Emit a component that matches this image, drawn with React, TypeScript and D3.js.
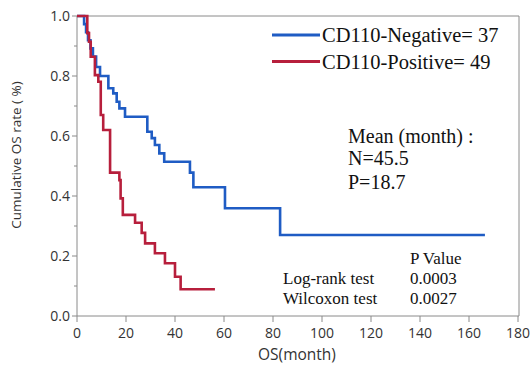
import React from "react";
import * as d3 from "d3";

const negTimes = [0, 2.9, 3.7, 4.5, 5.5, 6.5, 7.8, 9.4, 12.8, 14.8, 16.2, 17.3, 19.6, 28.7, 30.5, 31.8, 33.6, 35.6, 46.1, 47.5, 60.4, 82.9, 166.5];
const negSurv = [1, 0.973, 0.946, 0.919, 0.892, 0.865, 0.83, 0.8, 0.759, 0.742, 0.714, 0.692, 0.664, 0.614, 0.593, 0.57, 0.542, 0.514, 0.478, 0.429, 0.359, 0.27, 0.27];
const posTimes = [0, 4.2, 4.9, 5.6, 7.3, 8.7, 9.7, 10.7, 13.5, 17.3, 17.8, 18.7, 23.7, 26.4, 27.8, 31.8, 35.9, 40, 42.3, 56.3];
const posSurv = [1, 0.943, 0.914, 0.864, 0.803, 0.781, 0.67, 0.62, 0.478, 0.453, 0.392, 0.337, 0.311, 0.277, 0.242, 0.209, 0.176, 0.131, 0.089, 0.089];

const xTicks = [0, 20, 40, 60, 80, 100, 120, 140, 160, 180];
const yTicks = [0, 0.2, 0.4, 0.6, 0.8, 1.0];
const yMinor = [0.1, 0.3, 0.5, 0.7, 0.9];

const legendLabels = ["CD110-Negative= 37", "CD110-Positive= 49"];
const meanLines = ["Mean (month) :", "N=45.5", "P=18.7"];
const testNames = ["Log-rank test", "Wilcoxon test"];
const testP = ["0.0003", "0.0027"];

const BLUE = "#1f5cc4";
const RED = "#b71f3c";
const AXIS = "#8a8a8a";

export default function App() {
  const x = d3.scaleLinear().domain([0, 180]).range([77, 518]);
  const y = d3.scaleLinear().domain([0, 1]).range([316, 16]);
  const line = d3
    .line<[number, number]>()
    .x((d) => x(d[0]))
    .y((d) => y(d[1]))
    .curve(d3.curveStepAfter);
  const negPts = negTimes.map((t, i) => [t, negSurv[i]] as [number, number]);
  const posPts = posTimes.map((t, i) => [t, posSurv[i]] as [number, number]);
  const sans = "'Open Sans', 'Noto Sans', sans-serif";
  const serif = "'Liberation Serif', 'Times New Roman', serif";
  const meanY = [142.5, 165, 189];
  return (
    <svg
      width={532}
      height={366}
      style={{ position: "absolute", left: 0, top: 0, background: "#fff" }}
    >
      <rect x={0} y={0} width={532} height={366} fill="#fff" />
      {/* frame */}
      <line x1={x(0)} x2={x(180) + 1} y1={y(1)} y2={y(1)} stroke={AXIS} strokeWidth={1} />
      <line x1={x(180) + 1} x2={x(180) + 1} y1={y(1)} y2={y(0)} stroke={AXIS} strokeWidth={1} />
      <line x1={x(0)} x2={x(180) + 1} y1={y(0)} y2={y(0)} stroke={AXIS} strokeWidth={1} />
      <line x1={x(0)} x2={x(0)} y1={y(1)} y2={y(0)} stroke={AXIS} strokeWidth={1} />
      {xTicks.map((t) => (
        <g key={"xt" + t}>
          <line x1={x(t)} x2={x(t)} y1={y(0)} y2={y(0) + 6} stroke={AXIS} />
          <text x={x(t)} y={y(0) + 22} fontSize={14} fontFamily={sans} fill="#333" textAnchor="middle">
            {t}
          </text>
        </g>
      ))}
      {yTicks.map((t) => (
        <g key={"yt" + t}>
          <line x1={x(0) - 5} x2={x(0)} y1={y(t)} y2={y(t)} stroke={AXIS} />
          <text x={x(0) - 7} y={y(t) + 5} fontSize={14} fontFamily={sans} fill="#333" textAnchor="end">
            {t.toFixed(1)}
          </text>
        </g>
      ))}
      {yMinor.map((t) => (
        <line key={"ym" + t} x1={x(0) - 3} x2={x(0)} y1={y(t)} y2={y(t)} stroke={AXIS} />
      ))}
      <text x={297} y={360} fontSize={15.5} fontFamily={sans} fill="#333" textAnchor="middle">
        OS(month)
      </text>
      <text
        transform="translate(21,155) rotate(-90)"
        fontSize={13.5}
        fontFamily={sans}
        fill="#333"
        textAnchor="middle"
      >
        Cumulative OS rate ( %)
      </text>
      {/* curves */}
      <path d={line(negPts) || ""} fill="none" stroke={BLUE} strokeWidth={2.6} />
      <path d={line(posPts) || ""} fill="none" stroke={RED} strokeWidth={2.6} />
      {/* legend */}
      {legendLabels.map((l, i) => (
        <g key={l}>
          <line x1={272} x2={320} y1={35 + i * 26.5} y2={35 + i * 26.5} stroke={i === 0 ? BLUE : RED} strokeWidth={3} />
          <text x={322} y={41.5 + i * 27} fontSize={20.5} fontFamily={serif} fill="#111">
            {l}
          </text>
        </g>
      ))}
      {meanLines.map((l, i) => (
        <text key={l} x={348} y={meanY[i]} fontSize={20} fontFamily={serif} fill="#111">
          {l}
        </text>
      ))}
      <text x={410} y={264} fontSize={17} fontFamily={serif} fill="#111">
        P Value
      </text>
      {testNames.map((l, i) => (
        <g key={l}>
          <text x={283} y={284 + i * 20} fontSize={17} fontFamily={serif} fill="#111">
            {l}
          </text>
          <text x={410} y={284 + i * 20} fontSize={17} fontFamily={serif} fill="#111">
            {testP[i]}
          </text>
        </g>
      ))}
    </svg>
  );
}
